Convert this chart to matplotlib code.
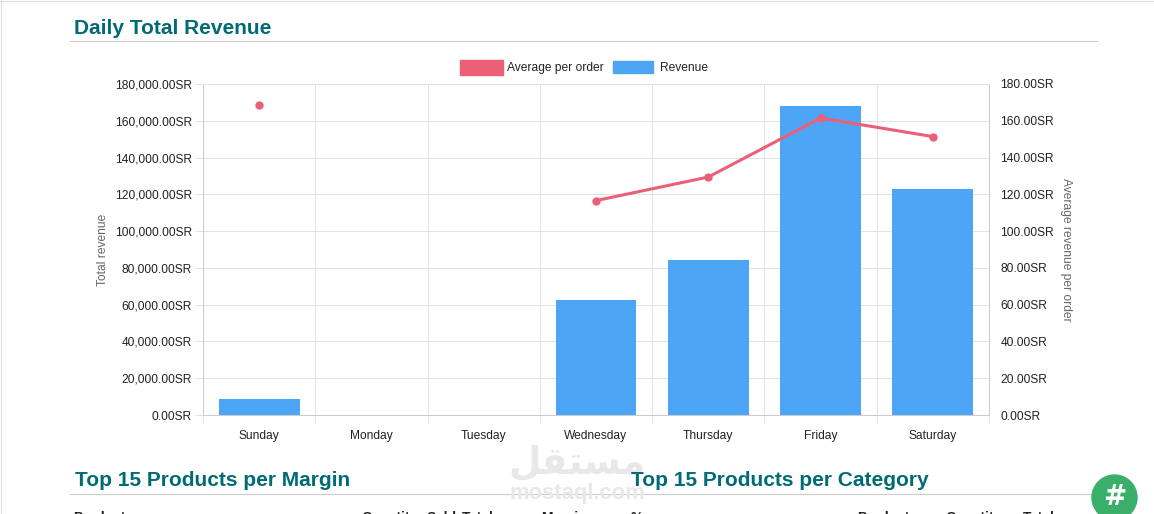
import matplotlib
matplotlib.use("Agg")
import matplotlib.pyplot as plt
from matplotlib.lines import Line2D
from matplotlib.patches import Circle, Rectangle

days = ["Sunday", "Monday", "Tuesday", "Wednesday", "Thursday", "Friday", "Saturday"]
revenue = [8700, 0, 0, 62800, 84300, 168000, 122900]
avg_per_order = [168.5, None, None, 116.6, 129.4, 161.5, 151.4]
rev_ticks = [0, 20000, 40000, 60000, 80000, 100000, 120000, 140000, 160000, 180000]
avg_ticks = [0, 20, 40, 60, 80, 100, 120, 140, 160, 180]
table_headers = ["Product", "Quantity", "Sold", "Total", "Margin", "%", "Product", "Quantity", "Total"]
table_header_x = [73, 361, 427, 462, 541, 631, 857, 945, 1023]

W, H = 1154, 514
TEAL = "#006b75"
RED = "#eb5f77"
BLUE = "#4da6f5"
GRID = "#e2e2e2"
EDGE = "#cccccc"
LABEL = 8.65

plt.rcParams["font.family"] = ["Liberation Sans", "DejaVu Sans"]

fig = plt.figure(figsize=(W / 100, H / 100), dpi=100)


def px_axes(left, top, right, bottom):
    return fig.add_axes([left / W, 1 - bottom / H, (right - left) / W, (bottom - top) / H])


def page_text(x, y, s, **kw):
    fig.text(x / W, 1 - y / H, s, **kw)


def page_line(x0, x1, y0, y1, color=EDGE, lw=0.8):
    fig.add_artist(Line2D([x0 / W, x1 / W], [1 - y0 / H, 1 - y1 / H], color=color, lw=lw))


# watermark goes first, the titles sit on top of it
page_text(577, 463, "\ufede\ufed8\ufe98\ufeb4\ufee3", fontsize=27, fontweight="bold", color="#e8e8e8",
          ha="center", va="center", family=["DejaVu Sans"])
page_text(577, 493, "mostaql.com", fontsize=15.8, fontweight="bold", color="#e8e8e8",
          ha="center", va="center")

ax = px_axes(203, 84, 989, 415)
ax.set_xlim(-0.5, 6.5)
ax.set_ylim(0, 180000)
ax.bar(range(7), revenue, width=0.72, color=BLUE, zorder=2, label="Revenue")
ax.set_yticks(rev_ticks)
ax.set_yticklabels([f"{v:,.2f}SR" for v in rev_ticks], fontsize=LABEL, color="#222222",
                   va="center_baseline")
ax.set_xticks([i - 0.5 for i in range(8)], minor=True)
ax.set_xticks(range(7))
ax.set_xticklabels(days, fontsize=LABEL, color="#222222")
ax.tick_params(axis="x", which="major", length=0, pad=11)
ax.tick_params(axis="x", which="minor", length=5.8, color=GRID, width=0.72)
ax.tick_params(axis="y", length=5.8, color=GRID, width=0.72, pad=2.2)
ax.grid(True, which="minor", axis="x", color=GRID, lw=0.72, zorder=0)
ax.grid(True, which="major", axis="y", color=GRID, lw=0.72, zorder=0)
for spine in ax.spines.values():
    spine.set_color(EDGE)
    spine.set_linewidth(0.72)
ax.spines["top"].set_color(GRID)
ax.set_ylabel("Total revenue", fontsize=LABEL, color="#666666", labelpad=4)
ax.patch.set_visible(False)

ax2 = ax.twinx()
ax2.set_ylim(0, 180)
ax2.patch.set_visible(False)
x_seen = [i for i, v in enumerate(avg_per_order) if v is not None]
ax2.plot(x_seen[1:], [avg_per_order[i] for i in x_seen[1:]], color=RED, lw=2.2,
         marker="o", ms=5, zorder=3)
ax2.plot(x_seen[:1], [avg_per_order[i] for i in x_seen[:1]], color=RED,
         marker="o", ms=5, ls="none", zorder=3)
ax2.set_yticks(avg_ticks)
ax2.set_yticklabels([f"{v:.2f}SR" for v in avg_ticks], fontsize=LABEL, color="#222222",
                    va="center_baseline")
ax2.tick_params(axis="y", length=0, pad=8.3)
for spine in ax2.spines.values():
    spine.set_visible(False)
ax2.set_ylabel("Average revenue per order", fontsize=LABEL, color="#666666",
               rotation=270, labelpad=13)

# legend is drawn by hand so the swatches match the wide chart.js boxes
fig.add_artist(Rectangle((460 / W, 1 - 75 / H), 43 / W, 15 / H, color=RED, transform=fig.transFigure))
page_text(507, 71, "Average per order", fontsize=LABEL, color="#222222", va="baseline")
fig.add_artist(Rectangle((613 / W, 1 - 73.5 / H), 40 / W, 12 / H, color=BLUE, transform=fig.transFigure))
page_text(660, 71, "Revenue", fontsize=LABEL, color="#222222", va="baseline")

# page around the chart
page_line(0, W, 0.5, 0.5, color="#dddddd")
page_line(0.5, 0.5, 0, H, color="#dddddd")
page_text(74, 28.5, "Daily Total Revenue", fontsize=15, fontweight="bold", color=TEAL, va="center")
page_line(70, 1097, 41, 41)
page_text(75, 481, "Top 15 Products per Margin", fontsize=15, fontweight="bold", color=TEAL, va="center")
page_text(631, 481, "Top 15 Products per Category", fontsize=15, fontweight="bold", color=TEAL, va="center")
page_line(70, 1097, 494, 494)

# table header row, only its top shows at the bottom edge of the picture
for hx, header in zip(table_header_x, table_headers):
    page_text(hx, 522, header, fontsize=10, fontweight="bold", color="#222222", va="baseline")

# badge
badge = px_axes(1090, 472, 1140, 514)
badge.set_zorder(5)
badge.set_xlim(1090, 1140)
badge.set_ylim(514, 472)
badge.axis("off")
badge.add_patch(Circle((1114.5, 497.5), 22.5, color="#3aaf6a"))
badge.text(1114.5, 497, "#", fontsize=20, fontweight="bold", color="white", ha="center", va="center",
           family=["DejaVu Sans"])

fig.savefig("out.png", dpi=100)
